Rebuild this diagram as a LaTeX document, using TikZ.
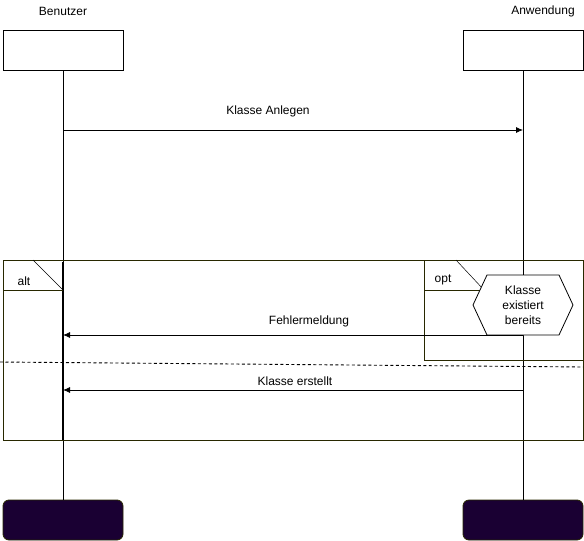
\documentclass[tikz,border=0pt]{standalone}
\usepackage{fontspec}
\setmainfont{Liberation Sans}
\usetikzlibrary{arrows.meta}

\definecolor{framecol}{RGB}{40,40,0}
\definecolor{endcol}{RGB}{26,0,51}

\tikzset{
    head/.style={draw, minimum width=120pt, minimum height=40pt, inner sep=0pt, line width=0.8pt},
    tail/.style={head, fill=endcol, draw=framecol, rounded corners=6pt},
    msg/.style={line width=0.8pt, -{Latex[length=7pt,width=6pt]}},
    lbl/.style={font=\fontsize{12}{14}\selectfont, inner sep=1pt},
    frame/.style={draw=framecol, line width=0.8pt}
}

\begin{document}
\begin{tikzpicture}[x=1pt, y=-1pt]
    \useasboundingbox (0,0) rectangle (584,541);

    % Define participants
    \node[lbl] (benutzerName) at (63,11) {Benutzer};
    \node[lbl] (anwendungName) at (543,11) {Anwendung};
    \node[head] (benutzer) at (63,50) {};
    \node[head] (anwendung) at (523,50) {};
    \node[tail] (benutzerEnd) at (63,520) {};
    \node[tail] (anwendungEnd) at (523,520) {};

    % Lifelines
    \draw[line width=0.8pt] (benutzer) -- (benutzerEnd);
    \draw[line width=0.8pt] (anwendung) -- (anwendungEnd);
    \draw[line width=1.4pt] (63,262) -- (63,440);

    % Frames
    \draw[frame] (3,260) rectangle (583,440);
    \draw[frame] (3,290) -- (63,290);
    \draw[line width=0.5pt] (33,260) -- (63,290);
    \node[lbl] (altLabel) at (24,281) {alt};
    \draw[frame] (424,260) rectangle (583,360);
    \draw[frame] (424,290) -- (484,290);
    \draw[line width=0.5pt] (456,260) -- (484,290);
    \node[lbl] (optLabel) at (443,280) {opt};
    \draw[line width=0.9pt, dash pattern=on 3pt off 2.5pt] (0,362) -- (583,367);

    % Condition
    \draw[fill=white, line width=0.8pt] (473,305) -- (487,275) -- (559,275) -- (573,305) -- (559,335) -- (487,335) -- cycle;
    \node[lbl, align=center, font=\fontsize{12}{15}\selectfont] (existiert) at (523,305) {Klasse\\existiert\\bereits};

    % Messages
    \coordinate (b1) at (63,130);
    \coordinate (a1) at (523,130);
    \coordinate (b2) at (63,335);
    \coordinate (a2) at (523,335);
    \coordinate (b3) at (63,390);
    \coordinate (a3) at (523,390);
    \draw[msg] (b1) -- (a1);
    \draw[msg] (a2) -- (b2);
    \draw[msg] (a3) -- (b3);
    \node[lbl] (anlegen) at (268,111) {Klasse Anlegen};
    \node[lbl] (fehler) at (309,321) {Fehlermeldung};
    \node[lbl] (erstellt) at (295,381) {Klasse erstellt};
\end{tikzpicture}
\end{document}
